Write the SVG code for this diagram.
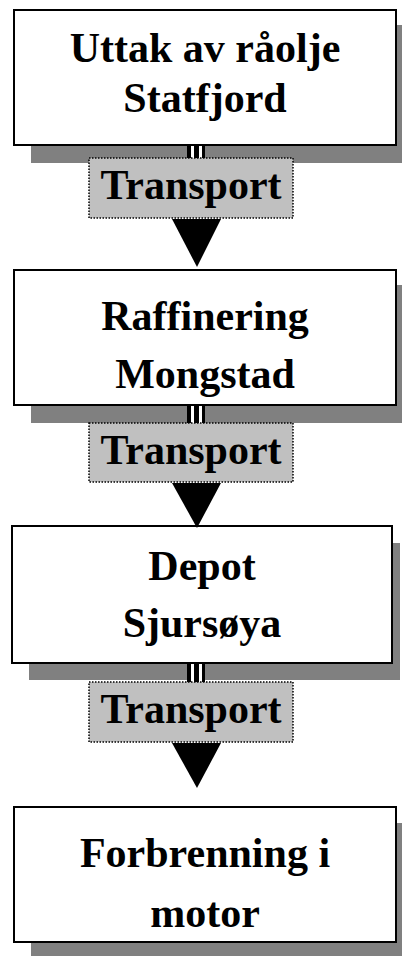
<svg xmlns="http://www.w3.org/2000/svg" width="405" height="956" viewBox="0 0 405 956">
<style>
.shadow{fill:#808080;stroke:none}
.box{fill:#ffffff;stroke:#000000;stroke-width:2}
.lbl{fill:#c0c0c0;stroke:#000000;stroke-width:1.5;stroke-dasharray:1.5,1.5}
.t{font-family:"Liberation Serif","Times New Roman",serif;font-weight:bold;font-size:42px;fill:#000000;text-anchor:middle}
.bar{fill:#000000}
.gap{fill:#ffffff}
.head{fill:#000000}
</style>
<rect width="405" height="956" fill="#ffffff"/>
<g id="node1">
<rect class="shadow" x="31" y="25" width="371" height="138"/>
<rect class="box" x="14" y="10" width="382" height="135"/>
<text class="t" x="205" y="62">Uttak av råolje</text>
<text class="t" x="205" y="112">Statfjord</text>
</g>
<g id="node2">
<rect class="shadow" x="31" y="285" width="371" height="138"/>
<rect class="box" x="14" y="270" width="382" height="135"/>
<text class="t" x="205" y="330">Raffinering</text>
<text class="t" x="205" y="388">Mongstad</text>
</g>
<g id="node3">
<rect class="shadow" x="29" y="543" width="371" height="137"/>
<rect class="box" x="12" y="526" width="380" height="137"/>
<text class="t" x="202" y="580">Depot</text>
<text class="t" x="202" y="637">Sjursøya</text>
</g>
<g id="node4">
<rect class="shadow" x="31" y="823" width="371" height="140"/>
<rect class="box" x="14" y="807" width="382" height="135"/>
<text class="t" x="205" y="867">Forbrenning i</text>
<text class="t" x="205" y="927">motor</text>
</g>
<g id="connectors">
<g id="conn1">
<rect class="bar" x="187" y="145" width="18" height="13"/>
<rect class="gap" x="191" y="146" width="3" height="12"/>
<rect class="gap" x="199" y="146" width="3" height="12"/>
<rect class="lbl" x="89" y="158" width="204" height="60"/>
<text class="t" x="191" y="199">Transport</text>
<polygon class="head" points="172,219 221,219 197,267"/>
</g>
<g id="conn2">
<rect class="bar" x="187" y="405" width="18" height="18"/>
<rect class="gap" x="191" y="406" width="3" height="17"/>
<rect class="gap" x="199" y="406" width="3" height="17"/>
<rect class="lbl" x="89" y="423" width="204" height="59"/>
<text class="t" x="191" y="464">Transport</text>
<polygon class="head" points="172,483 221,483 197,528"/>
</g>
<g id="conn3">
<rect class="bar" x="187" y="663" width="18" height="19"/>
<rect class="gap" x="191" y="664" width="3" height="18"/>
<rect class="gap" x="199" y="664" width="3" height="18"/>
<rect class="lbl" x="89" y="682" width="204" height="60"/>
<text class="t" x="191" y="723">Transport</text>
<polygon class="head" points="172,743 221,743 197,788"/>
</g>
</g>
</svg>
